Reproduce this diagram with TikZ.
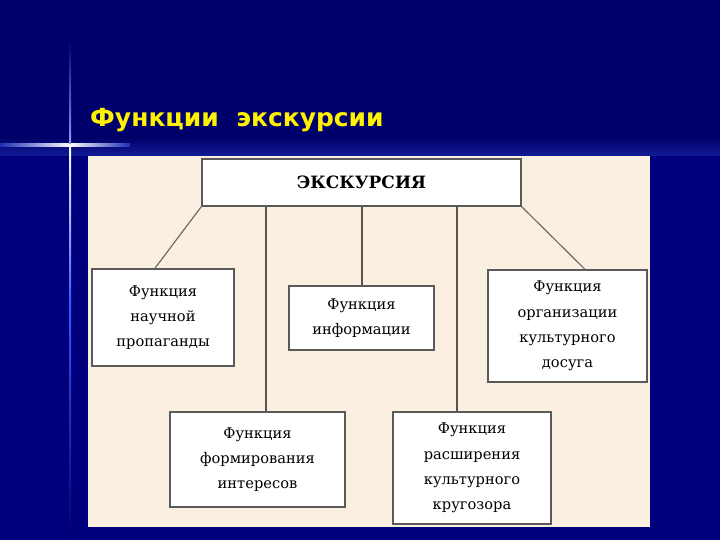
\documentclass[tikz,border=0pt]{standalone}
\usepackage{fontspec}
\setmainfont{DejaVu Serif}
\newfontfamily\titlefont{DejaVu Sans}
\usepackage{xcolor}
\usetikzlibrary{positioning}
\definecolor{fon}{HTML}{00006A}
\definecolor{blik}{HTML}{3A5CFF}
\definecolor{panel}{HTML}{FBEFE2}
\definecolor{rama}{HTML}{5A5A5A}
\definecolor{liniya}{HTML}{6A6A66}

\begin{document}
\begin{tikzpicture}[x=0.03cm, y=-0.03cm,
  blok/.style={draw=rama, line width=1.4pt, fill=white, align=center,
               font=\fontsize{12.5}{21.5}\selectfont, inner sep=2pt},
  svyaz/.style={liniya, line width=1pt},
  stoyka/.style={liniya!80!black, line width=1.5pt}]
% background and glow
\fill[fon] (0,0) rectangle (720,540);
\fill[fon!88!blue] (0,156) rectangle (720,540);
\shade[top color=fon, bottom color=fon!70!blik] (0,138) rectangle (720,156);
\shade[left color=fon!50!blik, right color=white] (0,144) rectangle (70,147);
\shade[left color=white, right color=fon!50!blik] (70,144) rectangle (130,147);
\shade[top color=fon, bottom color=blik!60!white] (69,40) rectangle (71,145);
\shade[top color=white, bottom color=blik] (69,145) rectangle (71,300);
\shade[top color=blik, bottom color=fon] (69,300) rectangle (71,540);
\node[anchor=base west, inner sep=0pt, text=yellow, font=\titlefont\bfseries\fontsize{21.3}{26}\selectfont]
  (zagolovok) at (90,127) {Функции\ \ экскурсии};
% panel
\fill[panel] (88,156) rectangle (650,527);
% boxes
\node[blok, minimum width=9.57cm, minimum height=1.41cm, font=\bfseries\fontsize{14.5}{18}\selectfont] (ekskursiya) at (361.5,182.5) {ЭКСКУРСИЯ};
\node[blok, minimum width=4.26cm, minimum height=2.91cm] (nauka) at (163,317.5) {Функция\\научной\\пропаганды};
\node[blok, minimum width=4.35cm, minimum height=1.92cm] (info) at (361.5,318) {Функция\\информации};
\node[blok, minimum width=4.77cm, minimum height=3.36cm] (dosug) at (567.5,326) {Функция\\организации\\культурного\\досуга};
\node[blok, minimum width=5.25cm, minimum height=2.85cm] (interes) at (257.5,459.5) {Функция\\формирования\\интересов};
\node[blok, minimum width=4.74cm, minimum height=3.36cm] (krugozor) at (472,468) {Функция\\расширения\\культурного\\кругозора};
% connectors
\draw[svyaz] (ekskursiya.south west) -- ([xshift=-0.24cm]nauka.north);
\draw[svyaz] (ekskursiya.south east) -- ([xshift=0.52cm]dosug.north);
\draw[stoyka] ([xshift=0.015cm]info.north) -- ([xshift=0.015cm]info.north |- ekskursiya.south);
\draw[stoyka] ([xshift=0.26cm]interes.north) -- ([xshift=0.26cm]interes.north |- ekskursiya.south);
\draw[stoyka] ([xshift=-0.45cm]krugozor.north) -- ([xshift=-0.45cm]krugozor.north |- ekskursiya.south);
\end{tikzpicture}
\end{document}
